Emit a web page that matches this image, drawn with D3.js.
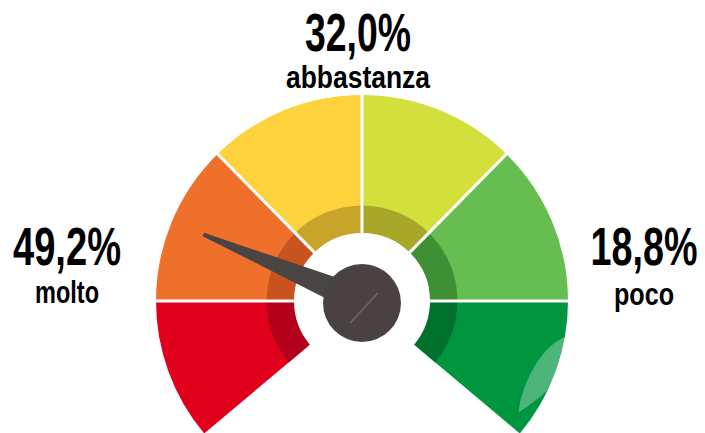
<!DOCTYPE html>
<html>
<head>
<meta charset="utf-8">
<script src="https://cdn.jsdelivr.net/npm/d3@7"></script>
<style>
  html, body { margin: 0; padding: 0; background: #fff; }
  svg { display: block; }
</style>
</head>
<body>
<div id="chart"></div>
<script>
// gauge segments, left to right
const segments = ['rosso', 'arancio', 'giallo', 'lime', 'verde chiaro', 'verde'];
const segColors = ['#e0001b', '#ee702b', '#fdd23c', '#d3df3b', '#65be4f', '#00953f'];
const segDark = ['#b3001b', '#c8531f', '#c9a42a', '#a8a72a', '#3f9035', '#00712d'];

// answers shown round the gauge
const answers = ['molto', 'abbastanza', 'poco'];
const percents = [49.2, 32.0, 18.8];

// where the needle points, in segment units (middle of the orange one)
const needleValue = 1.5;

document.addEventListener('DOMContentLoaded', () => {
    const svgWidth = 705;
    const svgHeight = 433;
    const cx = 362, cy = 301;
    const outerR = 206, midR = 95, innerR = 68;

    const svg = d3.select('#chart').append('svg')
        .attr('width', svgWidth)
        .attr('height', svgHeight);

    // segment boundary index -> angle (radians, 0 = up, clockwise)
    const deg = Math.PI / 180;
    const angle = d3.scaleLinear()
        .domain([0, 1, 2, 3, 4, 5, 6])
        .range([-130, -90, -44.5, 0, 44.5, 90, 130].map(a => a * deg));

    const g = svg.append('g').attr('transform', `translate(${cx},${cy})`);

    const outerArc = d3.arc().innerRadius(midR).outerRadius(outerR);
    const innerArc = d3.arc().innerRadius(innerR).outerRadius(midR + 0.5);

    const segData = segments.map((s, i) => ({
        name: s, i,
        startAngle: angle(i),
        endAngle: angle(i + 1)
    }));

    // clip path for the green segment glare
    const defs = svg.append('defs');
    defs.append('clipPath').attr('id', 'greenClip')
      .append('path')
        .attr('d', outerArc(segData[5]));

    g.selectAll('.seg-outer')
        .data(segData)
        .enter().append('path')
        .attr('class', 'seg-outer')
        .attr('d', outerArc)
        .attr('fill', d => segColors[d.i]);

    g.selectAll('.seg-inner')
        .data(segData)
        .enter().append('path')
        .attr('class', 'seg-inner')
        .attr('d', innerArc)
        .attr('fill', d => segDark[d.i]);

    // white separators between segments
    g.selectAll('.sep')
        .data(d3.range(1, 6))
        .enter().append('line')
        .attr('class', 'sep')
        .attr('x1', d => Math.sin(angle(d)) * (innerR - 2))
        .attr('y1', d => -Math.cos(angle(d)) * (innerR - 2))
        .attr('x2', d => Math.sin(angle(d)) * (outerR + 2))
        .attr('y2', d => -Math.cos(angle(d)) * (outerR + 2))
        .attr('stroke', '#fff')
        .attr('stroke-width', 3);

    // glare on the green segment
    g.append('ellipse')
        .attr('clip-path', 'url(#greenClip)')
        .attr('cx', 200)
        .attr('cy', 100)
        .attr('rx', 40)
        .attr('ry', 70)
        .attr('transform', 'rotate(20,200,100)')
        .attr('fill', '#fff')
        .attr('opacity', 0.3);

    // needle
    const na = angle(needleValue);
    const tipLen = 172, baseW = 14, tipW = 1.8;
    const ux = Math.sin(na), uy = -Math.cos(na);
    const px = -uy, py = ux;
    const needle = [
        [px * baseW, py * baseW],
        [ux * tipLen + px * tipW, uy * tipLen + py * tipW],
        [ux * tipLen - px * tipW, uy * tipLen - py * tipW],
        [-px * baseW, -py * baseW]
    ];
    g.append('path')
        .attr('d', d3.line()(needle) + 'Z')
        .attr('fill', '#4a4442');

    g.append('circle')
        .attr('cx', 0)
        .attr('cy', 2)
        .attr('r', 39)
        .attr('fill', '#4a4240');

    g.append('line')
        .attr('x1', -12).attr('y1', 22)
        .attr('x2', 16).attr('y2', -8)
        .attr('stroke', '#8a8280')
        .attr('stroke-width', 1.5)
        .attr('opacity', 0.6);

    // labels
    const fmt = v => d3.format('.1f')(v).replace('.', ',') + '%';
    const labelPos = [
        { x: 67, y: 265, y2: 303, w: 108, w2: 64 },
        { x: 358, y: 51, y2: 88, w: 106, w2: 144 },
        { x: 644, y: 265, y2: 305, w: 107, w2: 60 }
    ];

    const font = "'Liberation Sans Narrow', 'Liberation Sans', Arial, sans-serif";

    svg.selectAll('.pct')
        .data(answers)
        .enter().append('text')
        .attr('class', 'pct')
        .attr('x', (d, i) => labelPos[i].x)
        .attr('y', (d, i) => labelPos[i].y)
        .attr('text-anchor', 'middle')
        .attr('font-family', font)
        .attr('font-weight', 'bold')
        .attr('font-size', 53)
        .attr('textLength', (d, i) => labelPos[i].w)
        .attr('lengthAdjust', 'spacingAndGlyphs')
        .attr('fill', '#000')
        .text((d, i) => fmt(percents[i]));

    svg.selectAll('.ans')
        .data(answers)
        .enter().append('text')
        .attr('class', 'ans')
        .attr('x', (d, i) => labelPos[i].x)
        .attr('y', (d, i) => labelPos[i].y2)
        .attr('text-anchor', 'middle')
        .attr('font-family', font)
        .attr('font-weight', 'bold')
        .attr('font-size', 31)
        .attr('textLength', (d, i) => labelPos[i].w2)
        .attr('lengthAdjust', 'spacingAndGlyphs')
        .attr('fill', '#000')
        .text(d => d);
});
</script>
</body>
</html>
